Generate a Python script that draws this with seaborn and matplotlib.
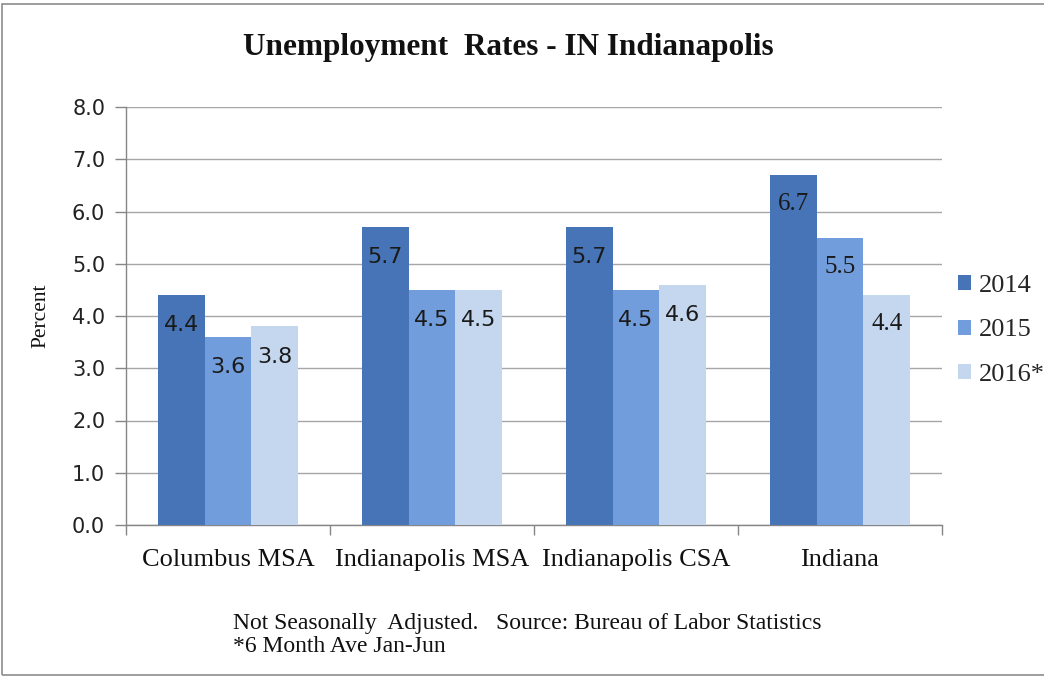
import matplotlib
matplotlib.use("Agg")
import matplotlib.pyplot as plt
import seaborn as sns
import pandas as pd
from matplotlib.patches import Rectangle
from matplotlib.ticker import FixedLocator

categories = ["Columbus MSA", "Indianapolis MSA", "Indianapolis CSA", "Indiana"]
years = ["2014", "2015", "2016*"]
values_2014 = [4.4, 5.7, 5.7, 6.7]
values_2015 = [3.6, 4.5, 4.5, 5.5]
values_2016 = [3.8, 4.5, 4.6, 4.4]
y_ticks = [0.0, 1.0, 2.0, 3.0, 4.0, 5.0, 6.0, 7.0, 8.0]
colors = ["#4674B6", "#729DDC", "#C5D7EF"]

df = pd.DataFrame({
    "Region": categories * 3,
    "Year": [years[0]] * 4 + [years[1]] * 4 + [years[2]] * 4,
    "Rate": values_2014 + values_2015 + values_2016,
})

sns.set_theme(style="white")
SERIF = ["Liberation Serif", "DejaVu Serif"]
SANS = ["DejaVu Sans"]
plt.rcParams["font.family"] = SERIF

AX_L, AX_R, AX_T, AX_B = 126, 942, 107, 525
fig = plt.figure(figsize=(10.44, 6.77), dpi=100)
ax = fig.add_axes([AX_L / 1044, 1 - AX_B / 677, (AX_R - AX_L) / 1044, (AX_B - AX_T) / 677])

sns.barplot(data=df, x="Region", y="Rate", hue="Year", palette=colors,
            width=0.69, gap=0, saturation=1, ax=ax, legend=True, zorder=3,
            linewidth=0, edgecolor="none")

ax.set_xlim(-0.5, 3.5)
ax.set_yticks(y_ticks)
ax.set_yticklabels([f"{t:.1f}" for t in y_ticks], fontfamily=SANS, fontsize=15)
ax.set_ylim(0, 8)
ax.grid(axis="y", color="#A6A6A6", linewidth=1.0, zorder=0)
ax.set_axisbelow(True)

for s in ["top", "right"]:
    ax.spines[s].set_visible(False)
for s in ["left", "bottom"]:
    ax.spines[s].set_color("#868686")
    ax.spines[s].set_linewidth(1.0)

ax.tick_params(axis="y", which="major", left=True, length=8, color="#868686",
               width=1, direction="out", pad=7, labelcolor="#222222")
ax.tick_params(axis="x", which="major", bottom=False, length=0, pad=17,
               labelsize=19, labelcolor="#111111")
ax.xaxis.set_minor_locator(FixedLocator([-0.5, 0.5, 1.5, 2.5, 3.5]))
ax.tick_params(axis="x", which="minor", bottom=True, length=7, color="#868686", width=1)
for lab in ax.get_xticklabels():
    lab.set_fontfamily(SERIF)
ax.set_xlabel("")
ax.set_ylabel("Percent", fontsize=15.5, fontfamily=SERIF, color="#111111")
ax.yaxis.set_label_coords((50 - AX_L) / (AX_R - AX_L), 0.5)

for cont in ax.containers:
    labels = ax.bar_label(cont, fmt="%.1f", padding=-29, fontsize=16,
                          color="#1a1a1a")
    for i, t in enumerate(labels):
        if i == 3:
            t.set_fontfamily(SERIF)
            t.set_fontsize(18)
        else:
            t.set_fontfamily(["DejaVu Sans"])
            t.set_fontsize(16)

leg = ax.legend(loc="upper left", bbox_to_anchor=(958 / 1044, 1 - 275 / 677),
                bbox_transform=fig.transFigure, frameon=False, fontsize=19,
                handlelength=0.5, handleheight=0.5, handletextpad=0.3,
                labelspacing=0.85, borderaxespad=0, borderpad=0)
for t in leg.get_texts():
    t.set_fontfamily(SERIF)

fig.text(508 / 1044, 1 - 47 / 677, "Unemployment  Rates - IN Indianapolis",
         ha="center", va="center", fontsize=22.5, fontweight="bold",
         fontfamily=SERIF, color="#111111")
fig.text(233 / 1044, 1 - 623 / 677, "Not Seasonally  Adjusted.   Source: Bureau of Labor Statistics",
         ha="left", va="center", fontsize=17, fontfamily=SERIF, color="#111111")
fig.text(233 / 1044, 1 - 647 / 677, "*6 Month Ave Jan-Jun",
         ha="left", va="center", fontsize=17, fontfamily=SERIF, color="#111111")

fig.patches.append(Rectangle((2 / 1044, 2 / 677), 1.0, 1 - 6 / 677, transform=fig.transFigure,
                             fill=False, edgecolor="#8C8C8C", linewidth=1.2))

fig.savefig("out.png", dpi=100)
